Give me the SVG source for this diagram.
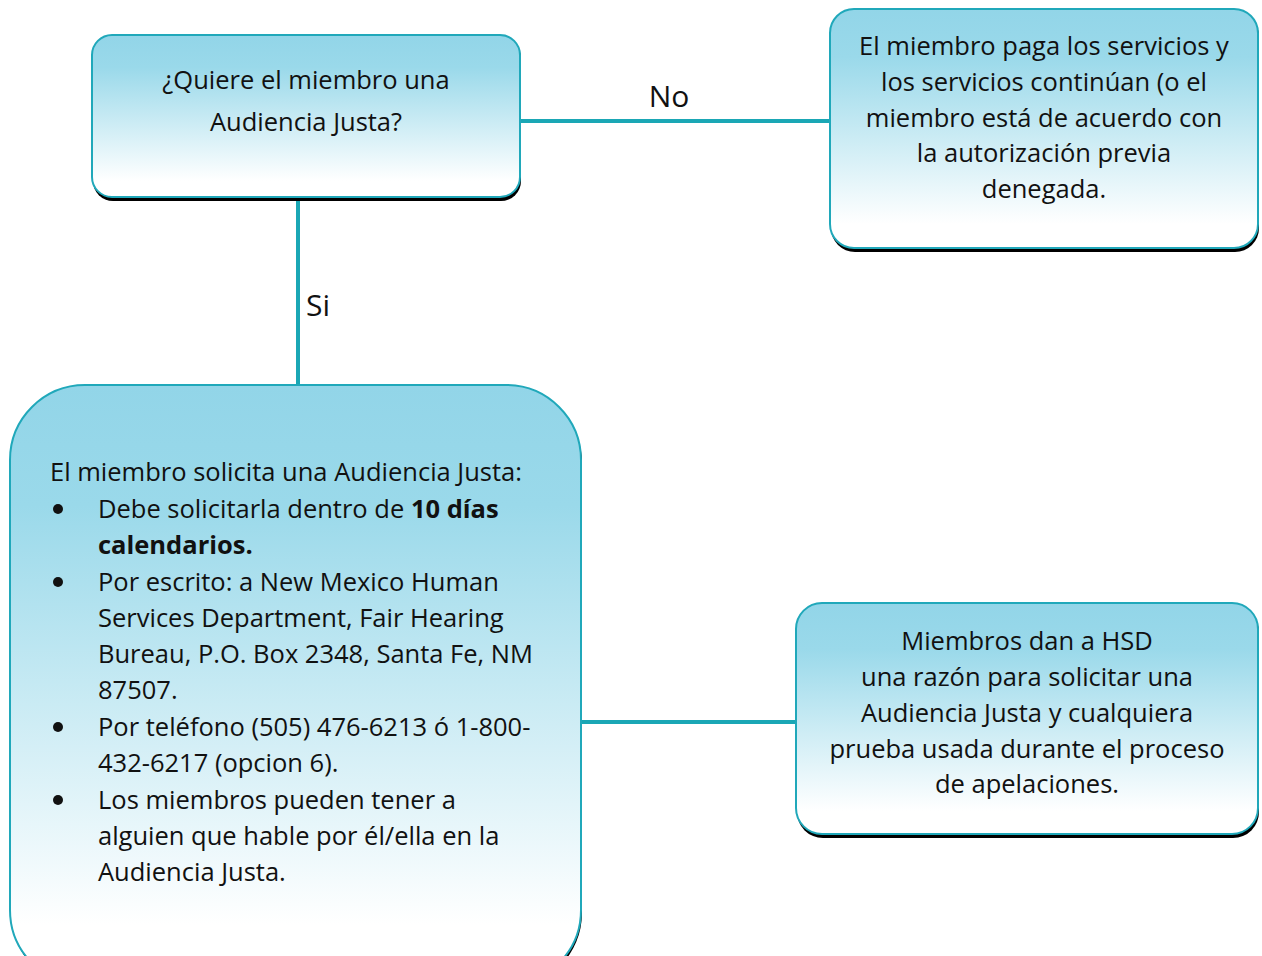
<svg xmlns="http://www.w3.org/2000/svg" width="1262" height="956" viewBox="0 0 1262 956">
<defs>
<linearGradient id="g" x1="0" y1="0" x2="0" y2="1">
<stop offset="0" stop-color="#92d5e8"/>
<stop offset="0.2" stop-color="#9ad9ea"/>
<stop offset="0.9" stop-color="#ffffff"/>
</linearGradient>
<style>
.box{fill:url(#g);stroke:#20a8ba;stroke-width:2}
.sh{fill:#000}
.t{font-family:"Open Sans",Lato,sans-serif;font-size:25.5px;fill:#111}
.c{text-anchor:middle}
.lbl{font-family:"Open Sans",Lato,sans-serif;font-size:30px;fill:#111}
.con{stroke:#1aa7b5;stroke-width:4;fill:none}
</style>
</defs>
<rect width="1262" height="956" fill="#fff"/>
<g id="connectors">
<line class="con" x1="520" y1="121" x2="831" y2="121"/>
<line class="con" x1="298" y1="197" x2="298" y2="386"/>
<line class="con" x1="580" y1="722" x2="797" y2="722"/>
<text class="lbl" x="669" y="107" text-anchor="middle">No</text>
<text class="lbl" x="318" y="316" text-anchor="middle">Si</text>
</g>
<g id="n1">
<rect class="sh" x="93" y="38" width="428" height="163" rx="20"/>
<rect class="box" x="92" y="35" width="428" height="162" rx="20"/>
<text class="t c" x="306" y="89">¿Quiere el miembro una</text>
<text class="t c" x="306" y="131">Audiencia Justa?</text>
</g>
<g id="n2">
<rect class="sh" x="831" y="12" width="428" height="240" rx="24"/>
<rect class="box" x="830" y="9" width="428" height="239" rx="24"/>
<text class="t c" x="1044" y="55">El miembro paga los servicios y</text>
<text class="t c" x="1044" y="91">los servicios continúan (o el</text>
<text class="t c" x="1044" y="127">miembro está de acuerdo con</text>
<text class="t c" x="1044" y="162">la autorización previa</text>
<text class="t c" x="1044" y="198">denegada.</text>
</g>
<g id="n3">
<rect class="sh" x="11" y="388" width="571" height="600" rx="75"/>
<rect class="box" x="10" y="385" width="571" height="600" rx="75"/>
<text class="t" x="50" y="481">El miembro solicita una Audiencia Justa:</text>
<g class="t">
<circle cx="58" cy="509" r="5" fill="#111"/>
<circle cx="58" cy="582" r="5" fill="#111"/>
<circle cx="58" cy="727" r="5" fill="#111"/>
<circle cx="58" cy="800" r="5" fill="#111"/>
</g>
<text class="t" x="98" y="518">Debe solicitarla dentro de <tspan font-weight="bold">10 días</tspan></text>
<text class="t" x="98" y="554" font-weight="bold">calendarios.</text>
<text class="t" x="98" y="591">Por escrito: a New Mexico Human</text>
<text class="t" x="98" y="627">Services Department, Fair Hearing</text>
<text class="t" x="98" y="663">Bureau, P.O. Box 2348, Santa Fe, NM</text>
<text class="t" x="98" y="699">87507.</text>
<text class="t" x="98" y="736">Por teléfono (505) 476-6213 ó 1-800-</text>
<text class="t" x="98" y="772">432-6217 (opcion 6).</text>
<text class="t" x="98" y="809">Los miembros pueden tener a</text>
<text class="t" x="98" y="845">alguien que hable por él/ella en la</text>
<text class="t" x="98" y="881">Audiencia Justa.</text>
</g>
<g id="n4">
<rect class="sh" x="797" y="606" width="462" height="232" rx="26"/>
<rect class="box" x="796" y="603" width="462" height="231" rx="26"/>
<text class="t c" x="1027" y="650">Miembros dan a HSD</text>
<text class="t c" x="1027" y="686">una razón para solicitar una</text>
<text class="t c" x="1027" y="722">Audiencia Justa y cualquiera</text>
<text class="t c" x="1027" y="758">prueba usada durante el proceso</text>
<text class="t c" x="1027" y="793">de apelaciones.</text>
</g>
</svg>
